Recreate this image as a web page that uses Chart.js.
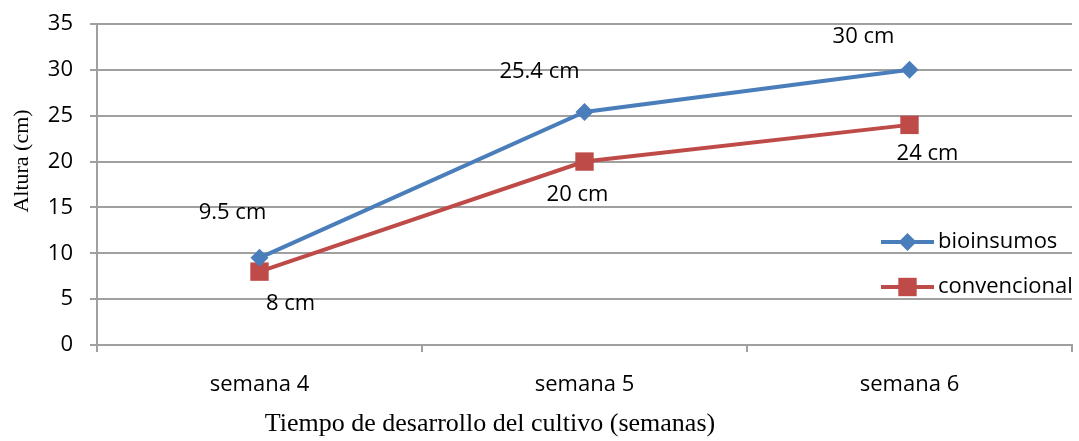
<!DOCTYPE html>
<html lang="es">
<head>
  <meta charset="UTF-8">
  <title>Altura por semana</title>
  <script src="https://cdn.jsdelivr.net/npm/chart.js"></script>
  <style>
    html, body { margin: 0; background: #fff; overflow: hidden; }
    #wrap { position: relative; width: 1079px; height: 441px; }
    #chart { display: block; }
  </style>
</head>
<body>
  <div id="wrap"><canvas id="chart"></canvas></div>
  <script>
    // datos
    const categories = ['semana 4', 'semana 5', 'semana 6'];
    const bioinsumos = [9.5, 25.4, 30];
    const convencional = [8, 20, 24];
    const bioLabels = ['9.5 cm', '25.4 cm', '30 cm'];
    const convLabels = ['8 cm', '20 cm', '24 cm'];
    const yMin = 0, yMax = 35, yStep = 5;

    // desplazamiento de las etiquetas respecto al punto (px)
    const bioLabelOffsets = [[-27, -45], [-45, -40], [-46, -33]];
    const convLabelOffsets = [[31, 32], [-7, 33], [18, 29]];

    const BLUE = '#4a7ebb';
    const RED = '#be4b48';
    const GRID = '#a0a0a0';
    const SANS = "'Open Sans', sans-serif";
    const SERIF = "'Liberation Serif', 'Times New Roman', serif";

    // etiquetas de datos, leyenda y títulos de ejes
    const extras = {
      id: 'extras',
      afterDatasetsDraw(chart) {
        const ctx = chart.ctx;
        const area = chart.chartArea;
        ctx.save();
        ctx.fillStyle = '#000';
        ctx.font = '22px ' + SANS;
        ctx.textAlign = 'center';
        ctx.textBaseline = 'middle';
        const sets = [[0, bioLabels, bioLabelOffsets], [1, convLabels, convLabelOffsets]];
        sets.forEach(([i, texts, offs]) => {
          chart.getDatasetMeta(i).data.forEach((pt, j) => {
            ctx.fillText(texts[j], pt.x + offs[j][0], pt.y + offs[j][1]);
          });
        });

        // leyenda
        const legendY = [area.top + 218, area.top + 263];
        chart.data.datasets.forEach((ds, i) => {
          const y = legendY[i];
          const x0 = area.right - 191, x1 = area.right - 138;
          ctx.strokeStyle = ds.borderColor;
          ctx.lineWidth = 4;
          ctx.beginPath();
          ctx.moveTo(x0, y);
          ctx.lineTo(x1, y);
          ctx.stroke();
          ctx.fillStyle = ds.borderColor;
          Chart.helpers.drawPoint(ctx, {
            pointStyle: ds.pointStyle, radius: ds.pointRadius, rotation: 0, borderWidth: 0
          }, (x0 + x1) / 2, y);
          ctx.fillStyle = '#000';
          ctx.textAlign = 'left';
          ctx.font = '22px ' + SANS;
          ctx.fillText(ds.label, x1 + 4, y);
        });

        // títulos de ejes
        ctx.font = '22px ' + SERIF;
        ctx.textAlign = 'center';
        ctx.save();
        ctx.translate(22, 161);
        ctx.rotate(-Math.PI / 2);
        ctx.fillText('Altura (cm)', 0, 0);
        ctx.restore();
        ctx.font = '26px ' + SERIF;
        ctx.fillText('Tiempo de desarrollo del cultivo (semanas)', 490, 424);
        ctx.restore();
      }
    };

    new Chart(document.getElementById('chart'), {
      type: 'line',
      data: {
        labels: categories,
        datasets: [{
          label: 'bioinsumos',
          data: bioinsumos,
          borderColor: BLUE,
          backgroundColor: BLUE,
          borderWidth: 4,
          pointStyle: 'rectRot',
          pointRadius: 9,
          pointHoverRadius: 9,
          pointBorderWidth: 0,
          tension: 0
        }, {
          label: 'convencional',
          data: convencional,
          borderColor: RED,
          backgroundColor: RED,
          borderWidth: 4,
          pointStyle: 'rect',
          pointRadius: 13,
          pointHoverRadius: 13,
          pointBorderWidth: 0,
          tension: 0
        }]
      },
      options: {
        responsive: true,
        maintainAspectRatio: false,
        animation: false,
        layout: { autoPadding: false, padding: { top: 24, right: 7, left: 0, bottom: 0 } },
        plugins: {
          legend: { display: false },
          tooltip: { enabled: false }
        },
        scales: {
          x: {
            offset: true,
            grid: {
              offset: true,
              drawOnChartArea: false,
              drawTicks: true,
              tickLength: 7,
              color: GRID,
              lineWidth: 2
            },
            border: { display: true, color: GRID, width: 2 },
            ticks: { color: '#000', font: { family: SANS, size: 22 }, padding: 20, maxRotation: 0 },
            afterFit: s => { s.height = 96; s.paddingLeft = 0; s.paddingRight = 0; }
          },
          y: {
            min: yMin,
            max: yMax,
            ticks: { stepSize: yStep, color: '#000', font: { family: SANS, size: 22 }, padding: 17 },
            grid: { color: GRID, lineWidth: 2, tickLength: 7 },
            border: { display: true, color: GRID, width: 2 },
            afterFit: s => { s.width = 97; s.paddingTop = 0; s.paddingBottom = 0; }
          }
        }
      },
      plugins: [extras]
    });
  </script>
</body>
</html>
